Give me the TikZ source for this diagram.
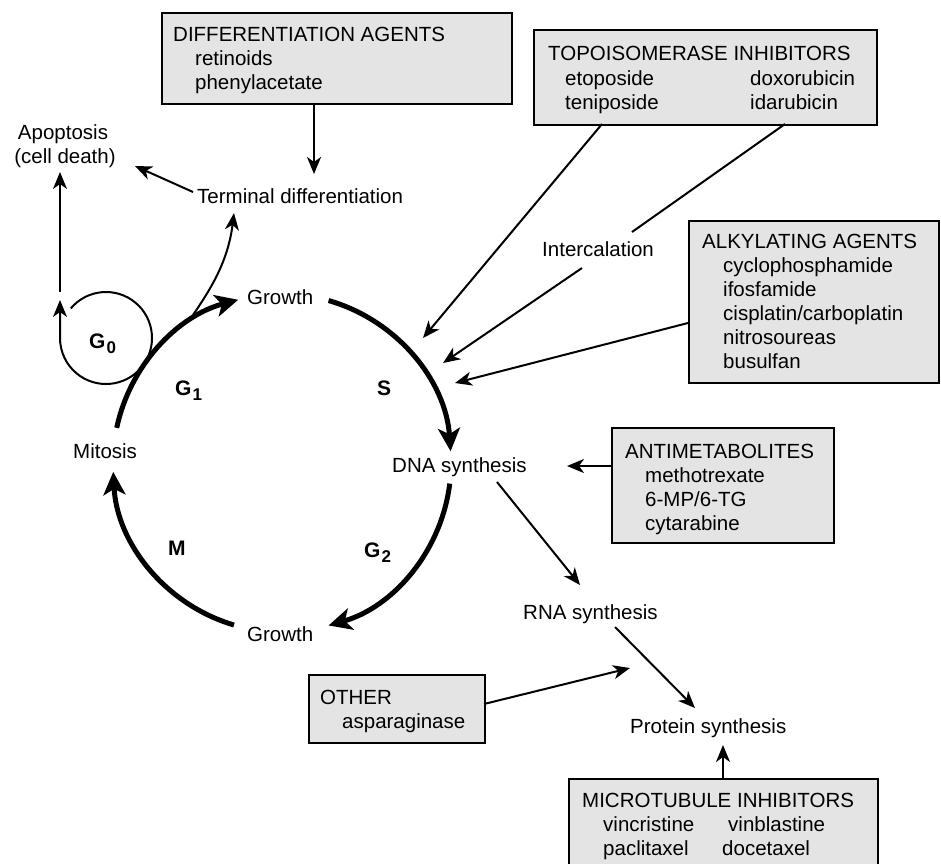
\documentclass[tikz,border=0pt]{standalone}
\usepackage{fontspec}
\setmainfont{Liberation Sans}
\usetikzlibrary{arrows.meta}
\definecolor{boxgrey}{HTML}{E3E4E3}
\begin{document}
\begin{tikzpicture}[x=1pt,y=-1pt,
  txt/.style={inner sep=0pt, font=\fontsize{20.5}{24}\selectfont, anchor=base west},
  ctxt/.style={txt, anchor=base},
  phase/.style={inner sep=0pt, font=\fontsize{21}{24}\selectfont\bfseries, anchor=base west},
  agent/.style={draw, line width=2.4pt, fill=boxgrey, rectangle, inner sep=0pt, anchor=north west},
  link/.style={line width=2pt, -{Stealth[length=17pt,width=14pt,inset=5pt]}},
  plainlink/.style={line width=2pt},
  phasearc/.style={line width=5pt, -{Stealth[length=23pt,width=22pt,inset=6pt]}},
]
\useasboundingbox (0,0) rectangle (941,863);
\clip (0,0) rectangle (941,863);

% ---------- drug class boxes ----------
\node[agent, minimum width=350pt, minimum height=91pt]  (diffbox)  at (161,12)  {};
\node[agent, minimum width=343pt, minimum height=95pt]  (topobox)  at (533,29)  {};
\node[agent, minimum width=250pt, minimum height=162pt] (alkybox)  at (688,220) {};
\node[agent, minimum width=222pt, minimum height=115pt] (antibox)  at (611,427) {};
\node[agent, minimum width=176pt, minimum height=68pt]  (otherbox) at (308,674) {};
\node[agent, minimum width=309pt, minimum height=110pt] (microbox) at (568,778) {};

\node[txt] (diffT)  at (173,41) {DIFFERENTIATION AGENTS};
\node[txt] (diff1)  at (195,65) {retinoids};
\node[txt] (diff2)  at (195,89) {phenylacetate};

\node[txt] (topoT)  at (548,60)  {TOPOISOMERASE INHIBITORS};
\node[txt] (topo1)  at (565,85)  {etoposide};
\node[txt] (topo2)  at (750,85)  {doxorubicin};
\node[txt] (topo3)  at (565,109) {teniposide};
\node[txt] (topo4)  at (750,109) {idarubicin};

\node[txt] (alkyT)  at (702,248) {ALKYLATING AGENTS};
\node[txt] (alky1)  at (723,272) {cyclophosphamide};
\node[txt] (alky2)  at (723,296) {ifosfamide};
\node[txt] (alky3)  at (723,320) {cisplatin/carboplatin};
\node[txt] (alky4)  at (723,344) {nitrosoureas};
\node[txt] (alky5)  at (723,368) {busulfan};

\node[txt] (antiT)  at (625,458) {ANTIMETABOLITES};
\node[txt] (anti1)  at (645,482) {methotrexate};
\node[txt] (anti2)  at (645,506) {6-MP/6-TG};
\node[txt] (anti3)  at (645,530) {cytarabine};

\node[txt] (otherT) at (320,704) {OTHER};
\node[txt] (other1) at (342,728) {asparaginase};

\node[txt] (microT) at (582,807) {MICROTUBULE INHIBITORS};
\node[txt] (micro1) at (603,831) {vincristine};
\node[txt] (micro2) at (728,831) {vinblastine};
\node[txt] (micro3) at (603,855) {paclitaxel};
\node[txt] (micro4) at (722,855) {docetaxel};

% ---------- process labels ----------
\node[ctxt] (apop)    at (63,139)  {Apoptosis};
\node[ctxt] (apop2)   at (65,163)  {(cell death)};
\node[txt]  (term)    at (197,203) {Terminal differentiation};
\node[txt]  (interc)  at (542,256) {Intercalation};
\node[txt]  (growthT) at (247,304) {Growth};
\node[txt]  (growthB) at (247,641) {Growth};
\node[txt]  (mitosis) at (73,458)  {Mitosis};
\node[txt]  (dna)     at (392,472) {DNA synthesis};
\node[txt]  (rna)     at (523,619) {RNA synthesis};
\node[txt]  (prot)    at (630,733) {Protein synthesis};

% ---------- phase labels ----------
\node[phase] (g0) at (89,348)  {G\kern1pt\raisebox{-5pt}{\fontsize{17}{17}\selectfont 0}};
\node[phase] (g1) at (175,395) {G\kern1pt\raisebox{-5pt}{\fontsize{17}{17}\selectfont 1}};
\node[phase] (s)  at (377,395) {S};
\node[phase] (m)  at (168,555) {M};
\node[phase] (g2) at (364,557) {G\kern1pt\raisebox{-5pt}{\fontsize{17}{17}\selectfont 2}};

% ---------- cell cycle ----------
\coordinate (cc) at (282,463);
\draw[phasearc] ([shift={(-168:169)}]cc) arc[start angle=-168, end angle=-105, radius=169];
\draw[phasearc] ([shift={(-74:169)}]cc)  arc[start angle=-74,  end angle=-4,   radius=169];
\draw[phasearc] ([shift={(7:169)}]cc)    arc[start angle=7,    end angle=74,   radius=169];
\draw[phasearc] ([shift={(106.5:169)}]cc) arc[start angle=106.5, end angle=177, radius=169];

% G0 resting loop
\coordinate (g0c)   at (106,338);
\coordinate (g0tip) at (60,300);
\draw[link] ([shift={(-140:46)}]g0c) arc[start angle=-140, end angle=180, radius=46] -- (g0tip);

% ---------- connectors ----------
\coordinate (g0up)    at (60,292);
\coordinate (apopin)  at (60,172);
\draw[link] (g0up) -- (apopin);

\coordinate (termout) at (193,192);
\coordinate (apopin2) at (135,166);
\draw[link] (termout) -- (apopin2);

\coordinate (diffout) at (314,103);
\coordinate (termin)  at (314,174);
\draw[link] (diffout) -- (termin);

\coordinate (g1branch) at (193,315);
\coordinate (termin2)  at (234,213);
\draw[link] (g1branch) .. controls (210,290) and (228,262) .. (termin2);

\coordinate (topoA)  at (602,124);
\coordinate (dnaA)   at (423,338);
\draw[link] (topoA) -- (dnaA);

\coordinate (topoB)  at (785,124);
\coordinate (intin)  at (632,232);
\draw[plainlink] (topoB) -- (intin);

\coordinate (intout) at (582,268);
\coordinate (dnaB)   at (443,363);
\draw[link] (intout) -- (dnaB);

\coordinate (alkyout) at (688,323);
\coordinate (dnaC)    at (455,383);
\draw[link] (alkyout) -- (dnaC);

\coordinate (antiout) at (611,466);
\coordinate (dnaD)    at (567,466);
\draw[link] (antiout) -- (dnaD);

\coordinate (dnaout) at (497,482);
\coordinate (rnain)  at (580,585);
\draw[link] (dnaout) -- (rnain);

\coordinate (rnaout) at (615,627);
\coordinate (protin) at (695,708);
\draw[link] (rnaout) -- (protin);

\coordinate (otherout) at (484,704);
\coordinate (rnaprot)  at (630,668);
\draw[link] (otherout) -- (rnaprot);

\coordinate (microout) at (723,778);
\coordinate (protin2)  at (723,745);
\draw[link] (microout) -- (protin2);
\end{tikzpicture}
\end{document}
